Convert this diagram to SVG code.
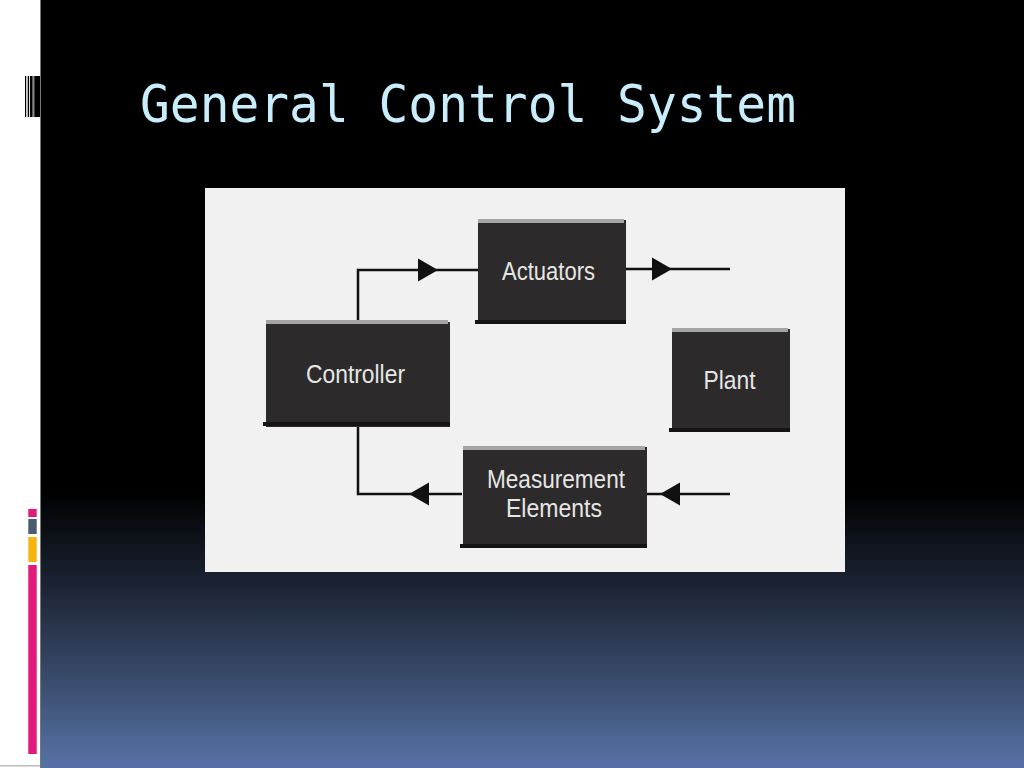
<svg xmlns="http://www.w3.org/2000/svg" width="1024" height="768" viewBox="0 0 1024 768">
<defs>
<linearGradient id="bg" x1="0" y1="0" x2="0" y2="1">
<stop offset="0" stop-color="#000"/>
<stop offset="0.64" stop-color="#000"/>
<stop offset="0.76" stop-color="#1b2333"/>
<stop offset="0.87" stop-color="#364764"/>
<stop offset="1" stop-color="#5672a6"/>
</linearGradient>
<path id="ah" d="M0,0 L-20,-11.5 L-20,11.5 Z"/>
<style>
.body{fill:#2c2a2a}
.top{fill:#a5a5a5}
.bot{fill:#141414}
.lbl{font-family:"Liberation Sans",Arial,sans-serif;font-size:26px;fill:#e6e6e6;text-anchor:middle}
.ln{fill:none;stroke:#111;stroke-width:2.5}
.ah{fill:#111}
</style>
</defs>
<rect x="0" y="0" width="1024" height="768" fill="url(#bg)"/>
<rect x="0" y="0" width="40" height="768" fill="#fff"/>
<rect x="40" y="0" width="1" height="768" fill="#777"/>
<rect x="0" y="765" width="40" height="1.5" fill="#bbb"/>
<g id="top-bars" fill="#000">
<rect x="25" y="76" width="1.2" height="41"/>
<rect x="27.7" y="76" width="1.4" height="41"/>
<rect x="30" y="76" width="2.7" height="41"/>
<rect x="32.7" y="76" width="1.6" height="41" fill="#888"/>
<rect x="34.3" y="76" width="5.7" height="41"/>
</g>
<g id="side-bars">
<rect x="28.3" y="509" width="8.4" height="8" fill="#e2197a"/>
<rect x="28.3" y="519" width="8.4" height="15" fill="#4b5a6d"/>
<rect x="28.3" y="537" width="8.4" height="25" fill="#f6b40f"/>
<rect x="28.3" y="565" width="8.4" height="189" fill="#e2197a"/>
</g>
<text id="title" x="140" y="122" font-family="'DejaVu Sans Mono','Liberation Mono',monospace" font-size="52" fill="#c8edfb" textLength="656" lengthAdjust="spacingAndGlyphs">General Control System</text>
<rect id="panel" x="205" y="188" width="640" height="384" fill="#f1f1f1"/>
<g id="connectors">
<path class="ln" d="M358,322 V270 H478"/>
<use href="#ah" class="ah" transform="translate(438,270)"/>
<path class="ln" d="M626,269 H730"/>
<use href="#ah" class="ah" transform="translate(672,269)"/>
<path class="ln" d="M358,427 V494 H462"/>
<use href="#ah" class="ah" transform="translate(409,494) rotate(180)"/>
<path class="ln" d="M647,494 H730"/>
<use href="#ah" class="ah" transform="translate(660,494) rotate(180)"/>
</g>
<g id="actuators">
<rect class="body" x="478" y="220" width="148" height="104"/>
<rect class="top" x="478" y="219" width="146" height="4"/>
<rect class="bot" x="475" y="320" width="151" height="4"/>
<text class="lbl" x="548.5" y="280" textLength="93" lengthAdjust="spacingAndGlyphs">Actuators</text>
</g>
<g id="controller">
<rect class="body" x="266" y="322" width="184" height="105"/>
<rect class="top" x="266" y="320" width="182" height="4"/>
<rect class="bot" x="263" y="422" width="187" height="4"/>
<text class="lbl" x="355.5" y="383" textLength="99" lengthAdjust="spacingAndGlyphs">Controller</text>
</g>
<g id="plant">
<rect class="body" x="672" y="329" width="118" height="103"/>
<rect class="top" x="672" y="328" width="116" height="4"/>
<rect class="bot" x="669" y="428" width="121" height="4"/>
<text class="lbl" x="729.5" y="389" textLength="52" lengthAdjust="spacingAndGlyphs">Plant</text>
</g>
<g id="measurement">
<rect class="body" x="463" y="447" width="184" height="101"/>
<rect class="top" x="463" y="446" width="182" height="4"/>
<rect class="bot" x="460" y="544" width="187" height="4"/>
<text class="lbl" x="556" y="488" textLength="138" lengthAdjust="spacingAndGlyphs">Measurement</text>
<text class="lbl" x="554" y="517" textLength="96" lengthAdjust="spacingAndGlyphs">Elements</text>
</g>
</svg>
